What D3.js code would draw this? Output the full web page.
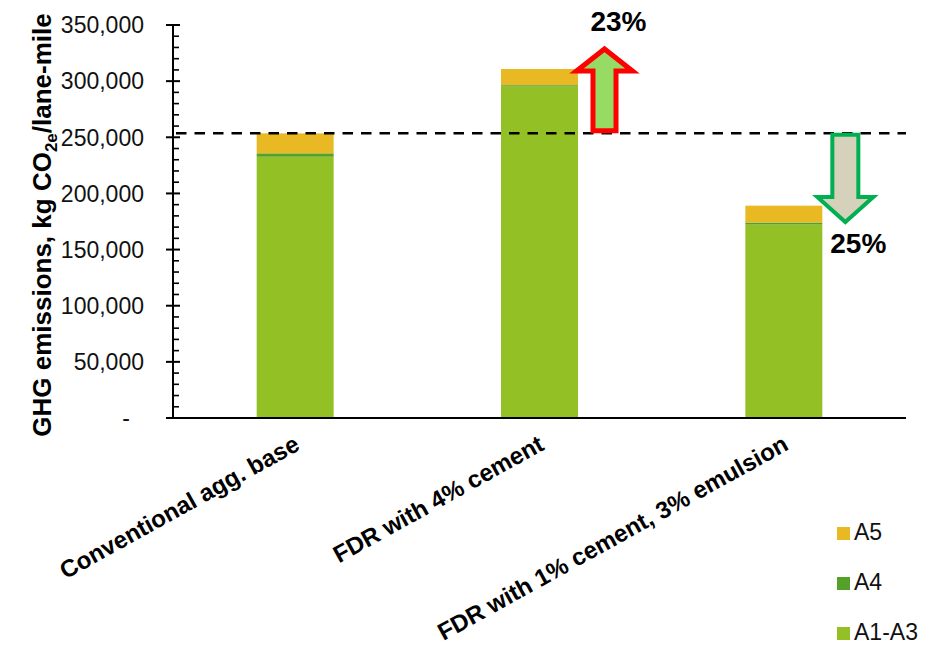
<!DOCTYPE html>
<html>
<head>
<meta charset="utf-8">
<script src="https://cdn.jsdelivr.net/npm/d3@7"></script>
<style>
  html, body { margin: 0; padding: 0; background: #fff; }
  svg { display: block; font-family: Arial, "Liberation Sans", sans-serif; }
</style>
</head>
<body>
<svg id="chart" width="945" height="646"></svg>
<script>
// Life-cycle stage emissions per lane-mile for each base-layer option
const categories = ["Conventional agg. base", "FDR with 4% cement", "FDR with 1% cement, 3% emulsion"];
const stageKeys = ["A1-A3", "A4", "A5"];
const a1a3Values = [232700, 295200, 172300];
const a4Values = [3000, 1200, 1800];
const a5Values = [17800, 14400, 15000];
const yTicks = [0, 50000, 100000, 150000, 200000, 250000, 300000, 350000];
const legendOrder = ["A5", "A4", "A1-A3"];

const colors = { "A1-A3": "#93c025", "A4": "#55a028", "A5": "#e8b923" };

const rows = categories.map((c, i) => ({
  category: c, "A1-A3": a1a3Values[i], "A4": a4Values[i], "A5": a5Values[i]
}));
const totals = rows.map(r => stageKeys.reduce((s, k) => s + r[k], 0));
const baseline = totals[0];

const svg = d3.select("#chart");
const plot = { left: 173, right: 906, top: 25, bottom: 418 };

const x = d3.scaleBand()
  .domain(categories)
  .range([plot.left, plot.right])
  .paddingInner(0.685)
  .paddingOuter(0.3425);

const y = d3.scaleLinear()
  .domain([0, 350000])
  .range([plot.bottom, plot.top]);

// stacked bars
const series = d3.stack().keys(stageKeys)(rows);
svg.append("g").selectAll("g")
  .data(series)
  .join("g")
  .attr("fill", d => colors[d.key])
  .selectAll("rect")
  .data(d => d)
  .join("rect")
  .attr("x", d => x(d.data.category))
  .attr("width", x.bandwidth())
  .attr("y", d => y(d[1]))
  .attr("height", d => y(d[0]) - y(d[1]));

// y axis with major and minor ticks
const yAxisG = svg.append("g").attr("transform", `translate(${plot.left},0)`);
yAxisG.append("line")
  .attr("x1", 0).attr("x2", 0)
  .attr("y1", y(350000)).attr("y2", y(0))
  .attr("stroke", "#000").attr("stroke-width", 2);
const minorTicks = d3.range(0, 350001, 10000).filter(v => v % 50000 !== 0);
yAxisG.selectAll(".minor")
  .data(minorTicks)
  .join("line")
  .attr("x1", 0).attr("x2", 6)
  .attr("y1", d => y(d)).attr("y2", d => y(d))
  .attr("stroke", "#000").attr("stroke-width", 1.6);
yAxisG.selectAll(".major")
  .data(yTicks)
  .join("line")
  .attr("x1", -7).attr("x2", 7)
  .attr("y1", d => y(d)).attr("y2", d => y(d))
  .attr("stroke", "#000").attr("stroke-width", 2);
const fmt = d3.format(",");
yAxisG.selectAll(".tick-label")
  .data(yTicks)
  .join("text")
  .attr("x", d => d === 0 ? -43 : -29)
  .attr("y", d => y(d))
  .attr("dy", "0.36em")
  .attr("text-anchor", "end")
  .attr("font-size", 23)
  .attr("fill", "#111")
  .text(d => d === 0 ? "-" : fmt(d));

// x axis line
svg.append("line")
  .attr("x1", plot.left - 7).attr("x2", plot.right)
  .attr("y1", plot.bottom).attr("y2", plot.bottom)
  .attr("stroke", "#000").attr("stroke-width", 2);

// rotated category labels
svg.append("g").selectAll("text")
  .data(categories)
  .join("text")
  .attr("transform", d => `translate(${x(d) + x.bandwidth() / 2 + 6},449) rotate(-29)`)
  .attr("text-anchor", "end")
  .attr("font-size", 24)
  .attr("font-weight", "bold")
  .attr("fill", "#000")
  .text(d => d);

// y axis title
const yTitle = svg.append("text")
  .attr("transform", "translate(51,225) rotate(-90)")
  .attr("text-anchor", "middle")
  .attr("font-size", 26)
  .attr("font-weight", "bold")
  .attr("fill", "#000");
yTitle.append("tspan").text("GHG emissions, kg CO");
yTitle.append("tspan").attr("font-size", 17).attr("dy", 6).text("2e");
yTitle.append("tspan").attr("dy", -6).text("/lane-mile");

// reference line at the conventional base total
svg.append("line")
  .attr("x1", plot.left + 3).attr("x2", plot.right)
  .attr("y1", y(baseline)).attr("y2", y(baseline))
  .attr("stroke", "#000").attr("stroke-width", 2.5)
  .attr("stroke-dasharray", "10.5,8");

// block arrows showing change relative to the reference
function arrowPath(cx, yStart, yTip, shaftHalf, headHalf, headLen) {
  const dir = yTip < yStart ? -1 : 1;
  const yHead = yTip - dir * headLen;
  return `M${cx - shaftHalf},${yStart} L${cx - shaftHalf},${yHead} L${cx - headHalf},${yHead} ` +
         `L${cx},${yTip} L${cx + headHalf},${yHead} L${cx + shaftHalf},${yHead} L${cx + shaftHalf},${yStart} Z`;
}
const cx2 = x(categories[1]) + x.bandwidth() / 2 + 65;
const cx3 = x(categories[2]) + x.bandwidth() / 2 + 61.5;
const yBase = y(baseline);

svg.append("path")
  .attr("d", arrowPath(cx2, yBase - 2.5, 49, 11.5, 28, 22))
  .attr("fill", "#96dc64")
  .attr("stroke", "#ff0000")
  .attr("stroke-width", 5)
  .attr("stroke-linejoin", "miter");
svg.append("path")
  .attr("d", arrowPath(cx3, yBase + 1.5, 222, 13, 28, 25))
  .attr("fill", "#d6d1ba")
  .attr("stroke", "#00b050")
  .attr("stroke-width", 4)
  .attr("stroke-linejoin", "miter");

const pct = totals.map(t => Math.round(Math.abs(t / baseline - 1) * 100) + "%");
svg.append("text")
  .attr("x", cx2 + 14).attr("y", 31)
  .attr("text-anchor", "middle")
  .attr("font-size", 28).attr("font-weight", "bold").attr("fill", "#000")
  .text(pct[1]);
svg.append("text")
  .attr("x", cx3 + 13).attr("y", 253)
  .attr("text-anchor", "middle")
  .attr("font-size", 28).attr("font-weight", "bold").attr("fill", "#000")
  .text(pct[2]);

// legend
const legend = svg.append("g").selectAll("g")
  .data(legendOrder)
  .join("g")
  .attr("transform", (d, i) => `translate(837,${527 + i * 50})`);
legend.append("rect")
  .attr("width", 13).attr("height", 13)
  .attr("fill", d => colors[d]);
legend.append("text")
  .attr("x", 17).attr("y", 13)
  .attr("font-size", 23).attr("fill", "#111")
  .text(d => d);
</script>
</body>
</html>
